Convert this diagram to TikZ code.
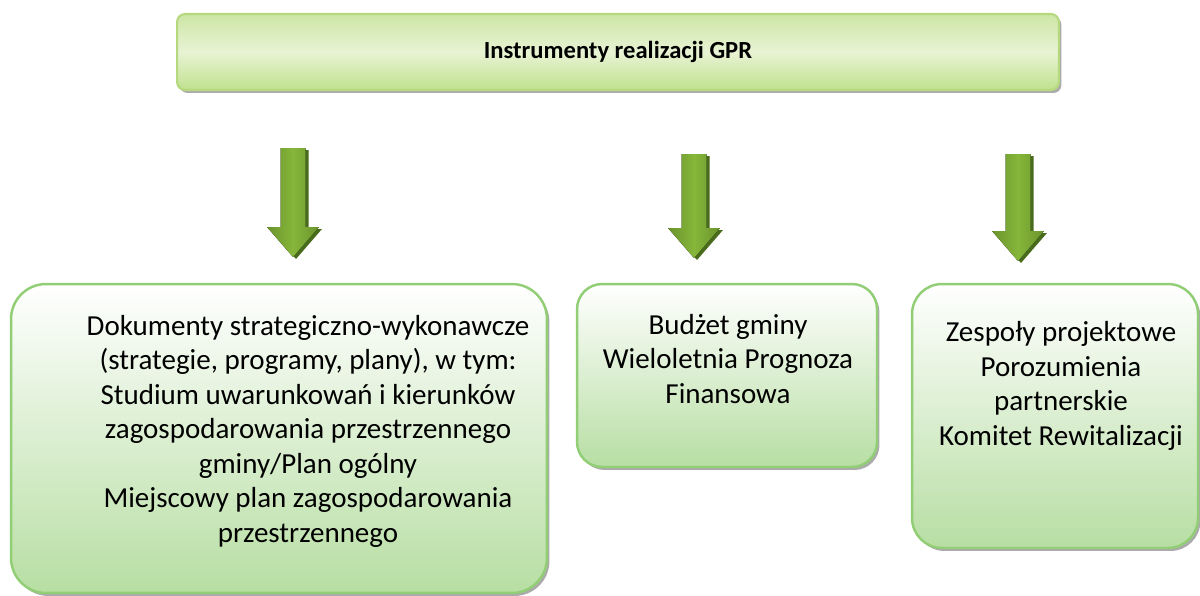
\documentclass[tikz,border=0pt]{standalone}
\usepackage{fontspec}
\setmainfont{Carlito}
\usepackage{xcolor}
\usetikzlibrary{positioning,shadows}
\definecolor{boxline}{RGB}{146,206,118}
\definecolor{boxbottom}{RGB}{183,222,163}
\definecolor{barline}{RGB}{182,217,126}
\definecolor{bartop}{RGB}{205,230,165}
\definecolor{barmid}{RGB}{232,243,212}
\definecolor{barbottom}{RGB}{192,225,142}
\definecolor{arrowlight}{RGB}{134,182,58}
\definecolor{arrowdark}{RGB}{106,148,44}
\definecolor{arrowshadow}{RGB}{72,108,28}
\tikzset{
	topbar/.style={
			draw=barline, line width=1.2pt, rounded corners=0.16cm,
			top color=bartop, bottom color=barbottom, middle color=barmid,
			drop shadow={shadow xshift=0.05cm, shadow yshift=-0.06cm, fill=black!55, opacity=0.6}
		},
	greenbox/.style={
			draw=boxline, line width=1.4pt,
			top color=white, bottom color=boxbottom,
			drop shadow={shadow xshift=0.05cm, shadow yshift=-0.06cm, fill=black!55, opacity=0.6}
		},
	boxtext/.style={align=center, anchor=base, inner sep=0pt, font=\fontsize{16.5}{19.6}\selectfont},
	blockarrow/.pic={
			% dark side of the arrow
			\fill[arrowshadow] (3,2) -- (-23,-28) -- (-9.5,-28) -- (-9.5,-#1+2) -- (15.5,-#1+2) -- (15.5,-28) -- (29,-28) -- cycle;
			% body of the arrow
			\fill[left color=arrowdark, right color=arrowdark, middle color=arrowlight]
			(0,0) -- (-26,-30) -- (-12.5,-30) -- (-12.5,-#1) -- (12.5,-#1) -- (12.5,-30) -- (26,-30) -- cycle;
		}
}

\begin{document}
\begin{tikzpicture}[x=0.02cm, y=-0.02cm]
	\useasboundingbox (0,0) rectangle (1200,595);

	% Draw the title bar
	\node[topbar, minimum width=17.64cm, minimum height=1.52cm] (bar) at (618,52) {};
	\node[boxtext, font=\fontsize{14}{16}\selectfont\bfseries] (title) at (618,58) {Instrumenty realizacji GPR};

	% Draw the arrows
	\pic (arrdocs) at (293,257) {blockarrow=109};
	\pic (arrbudget) at (694,258) {blockarrow=104};
	\pic (arrteams) at (1018,261) {blockarrow=107};

	% Draw the boxes
	\node[greenbox, rounded corners=0.7cm, minimum width=10.72cm, minimum height=6.18cm] (docs) at (279,438.5) {};
	\node[greenbox, rounded corners=0.5cm, minimum width=6cm, minimum height=3.66cm] (budget) at (727,375.5) {};
	\node[greenbox, rounded corners=0.6cm, minimum width=5.72cm, minimum height=5.28cm] (teams) at (1055,416) {};

	% Texts of the boxes (anchored on the last line)
	\node[boxtext] (docstext) at (308,542) {Dokumenty strategiczno-wykonawcze\\(strategie, programy, plany), w tym:\\Studium uwarunkowań i kierunków\\zagospodarowania przestrzennego\\gminy/Plan ogólny\\Miejscowy plan zagospodarowania\\przestrzennego};
	\node[boxtext] (budgettext) at (728,403) {Budżet gminy\\Wieloletnia Prognoza\\Finansowa};
	\node[boxtext] (teamstext) at (1061,445) {Zespoły projektowe\\Porozumienia\\partnerskie\\Komitet Rewitalizacji};
\end{tikzpicture}
\end{document}
